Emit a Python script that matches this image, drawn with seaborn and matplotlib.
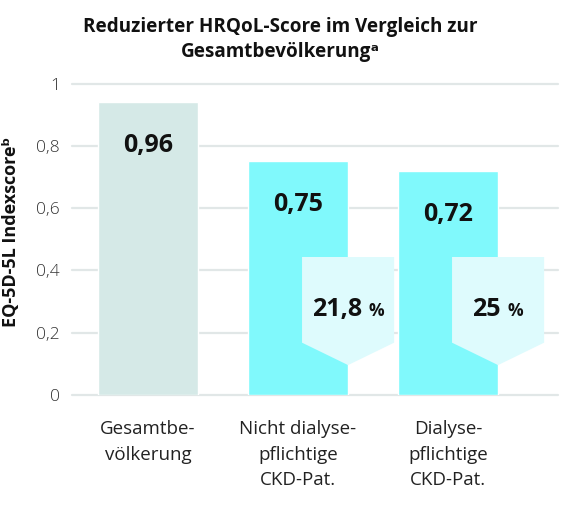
import seaborn as sns
import matplotlib.pyplot as plt
import pandas as pd
from matplotlib.patches import Polygon
from matplotlib.offsetbox import TextArea, HPacker, AnnotationBbox

# chart values
categories = ["Gesamtbe-\nvölkerung", "Nicht dialyse-\npflichtige\nCKD-Pat.", "Dialyse-\npflichtige\nCKD-Pat."]
scores = [0.94, 0.75, 0.72]
score_labels = ["0,96", "0,75", "0,72"]
reductions = ["", "21,8", "25"]
ytick_values = [0, 0.2, 0.4, 0.6, 0.8, 1]
ytick_labels = ["0", "0,2", "0,4", "0,6", "0,8", "1"]

bar_colors = ["#d5e9e7", "#80f9fc", "#80f9fc"]
box_color = "#defbfd"
grid_color = "#e1e7e7"

sns.set_style("white")
plt.rcParams['font.family'] = ['Open Sans', 'DejaVu Sans']

fig = plt.figure(figsize=(5.8, 5.07), dpi=100)
ax = fig.add_axes([72 / 580, 112 / 507, 486 / 580, 311.5 / 507])

df = pd.DataFrame({"group": categories, "score": scores})
sns.barplot(data=df, x="group", y="score", hue="group", palette=bar_colors,
            width=0.667, saturation=1, legend=False, ax=ax, zorder=2)

# grid and axes
ax.set_ylim(0, 1)
ax.set_xlim(-0.507, 2.733)
ax.set_yticks(ytick_values)
ax.set_yticklabels(ytick_labels, fontweight='light')
ax.grid(axis='y', color=grid_color, linewidth=1.6)
ax.grid(axis='x', visible=False)
ax.set_axisbelow(True)
for line in ax.get_ygridlines():
    line.set_clip_on(False)
sns.despine(ax=ax, left=True, bottom=True)
ax.set_xlabel("")
ax.set_ylabel("")
ax.tick_params(axis='y', length=0, pad=8.6, labelsize=12.5, labelcolor='#333333')
ax.tick_params(axis='x', length=0, pad=18, labelsize=13.5, labelcolor='#222222')
plt.setp(ax.get_xticklabels(), ha='center', multialignment='center', linespacing=1.55)

# value labels inside bars
for p, lab in zip(ax.patches, score_labels):
    ax.text(p.get_x() + p.get_width() / 2, p.get_height() - 0.14, lab,
            ha='center', va='center', fontsize=18, fontweight='bold', color='#111111', zorder=4)

# reduction boxes
for p, red in zip(ax.patches, reductions):
    if not red:
        continue
    x0 = p.get_x() + p.get_width()
    half = 0.307
    pts = [(x0 - half, 0.443), (x0 + half, 0.443), (x0 + half, 0.168),
           (x0, 0.096), (x0 - half, 0.168)]
    ax.add_patch(Polygon(pts, closed=True, facecolor=box_color, edgecolor='none', zorder=3))
    num = TextArea(red, textprops=dict(fontsize=18, fontweight='bold', color='#111111'))
    pct = TextArea("%", textprops=dict(fontsize=12.5, fontweight='bold', color='#111111'))
    pack = HPacker(children=[num, pct], align='baseline', pad=0, sep=5)
    ab = AnnotationBbox(pack, (x0, 0.276), frameon=False, box_alignment=(0.5, 0.5), zorder=4)
    ax.add_artist(ab)

# titles
fig.text(280 / 580, 1 - 31.7 / 507, "Reduzierter HRQoL-Score im Vergleich zur",
         ha='center', va='baseline', fontsize=13.6, fontweight='bold', color='#111111')
fig.text(280 / 580, 1 - 56.7 / 507, "Gesamtbevölkerungᵃ",
         ha='center', va='baseline', fontsize=13.6, fontweight='bold', color='#111111')
fig.text(11 / 580, 1 - 232 / 507, "EQ-5D-5L Indexscoreᵇ", rotation=90,
         ha='center', va='center', fontsize=13, fontweight='bold', color='#111111')

fig.savefig('out.png', dpi=100)
